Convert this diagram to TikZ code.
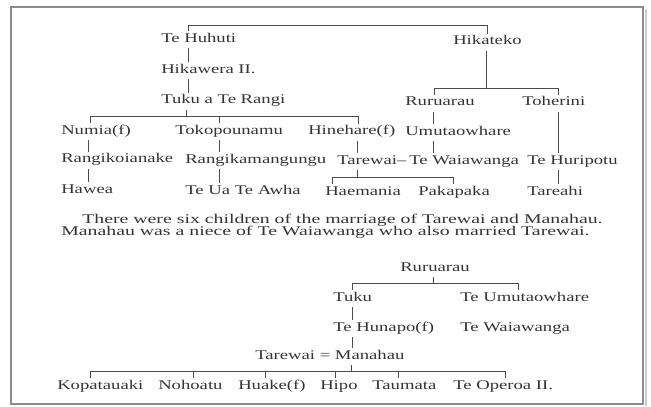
\documentclass[tikz,border=0pt]{standalone}
\usepackage{fontspec}
\setmainfont{Liberation Serif}[FakeStretch=1.4]
\newfontfamily\notefont{Liberation Serif}[FakeStretch=1.485]
\usetikzlibrary{calc}

\begin{document}
\begin{tikzpicture}[
    x=0.75pt, y=-0.75pt,
    person/.style={anchor=base west, inner sep=0pt, text height=8pt, text depth=4.5pt,
        text=black!80, font=\fontsize{10}{12}\selectfont},
    note/.style={anchor=base west, inner sep=0pt, text=black!80, font=\notefont\fontsize{10}{12}\selectfont},
    link/.style={draw=black!70, line width=0.6pt}
]
\useasboundingbox (0,0) rectangle (651,407);

% Frame of the scanned page
\draw[black!45, line width=0.8pt] (11,7) rectangle (643,404);
\draw[black!20, line width=2pt] (646,9) -- (646,406);

% Upper tree: people
\node[person] (huhuti) at (161,42) {Te Huhuti};
\node[person] (hikateko) at (453,45) {Hikateko};
\node[person] (hikawera) at (161,73) {Hikawera II.};
\node[person] (tukurangi) at (161,103.5) {Tuku a Te Rangi};
\node[person] (ruruarau) at (405,105.5) {Ruruarau};
\node[person] (toherini) at (522,105.5) {Toherini};
\node[person] (numia) at (61,134) {Numia(f)};
\node[person] (toko) at (175,134) {Tokopounamu};
\node[person] (hinehare) at (308,134.5) {Hinehare(f)};
\node[person] (umuta) at (405,135) {Umutaowhare};
\node[person] (rangikoi) at (61,162.5) {Rangikoianake};
\node[person] (rangikam) at (185,163) {Rangikamangungu};
\node[person] (tarewai) at (337,164) {Tarewai--};
\node[person] (waiawanga) at (409,164) {Te Waiawanga};
\node[person] (huripotu) at (527,164) {Te Huripotu};
\node[person] (hawea) at (61,193) {Hawea};
\node[person] (teua) at (185,194) {Te Ua Te Awha};
\node[person] (haemania) at (325,195) {Haemania};
\node[person] (pakapaka) at (418,195) {Pakapaka};
\node[person] (tareahi) at (527,195) {Tareahi};

% Upper tree: junctions
\coordinate (top-l) at (188,25);
\coordinate (top-r) at (487,25);
\coordinate (huhuti-line) at (188,0);
\coordinate (tuku-bar) at (186,116);
\coordinate (numia-top) at (90,116);
\coordinate (toko-top) at (219,116);
\coordinate (hinehare-top) at (358,116);
\coordinate (hikateko-bar) at (486,88);
\coordinate (ruruarau-top) at (434,88);
\coordinate (toherini-top) at (558,88);
\coordinate (numia-line) at (88,0);
\coordinate (toko-line) at (219,0);
\coordinate (hinehare-line) at (357,0);
\coordinate (umuta-line) at (433,0);
\coordinate (toherini-line) at (558,0);
\coordinate (tarewai-bar) at (357,177);
\coordinate (haemania-top) at (332,177);
\coordinate (pakapaka-top) at (453,177);

% Upper tree: connections
\draw[link] (huhuti.north -| top-l) -- (top-l) -- (top-r) -- (hikateko.north -| top-r);
\draw[link] (huhuti.south -| huhuti-line) -- (hikawera.north -| huhuti-line);
\draw[link] (hikawera.south -| huhuti-line) -- (tukurangi.north -| huhuti-line);
\draw[link] (tukurangi.south -| tuku-bar) -- (tuku-bar);
\draw[link] (numia-top) -- (hinehare-top);
\foreach \n in {numia,toko,hinehare} {
    \draw[link] (\n-top) -- (\n.north -| \n-top);
}
\draw[link] (hikateko.south -| hikateko-bar) -- (hikateko-bar);
\draw[link] (ruruarau-top) -- (toherini-top);
\foreach \n in {ruruarau,toherini} {
    \draw[link] (\n-top) -- (\n.north -| \n-top);
}
\draw[link] (ruruarau.south -| umuta-line) -- (umuta.north -| umuta-line);
\draw[link] (umuta.south -| umuta-line) -- (waiawanga.north -| umuta-line);
\draw[link] (toherini.south -| toherini-line) -- (huripotu.north -| toherini-line);
\draw[link] (huripotu.south -| toherini-line) -- (tareahi.north -| toherini-line);
\draw[link] (numia.south -| numia-line) -- (rangikoi.north -| numia-line);
\draw[link] (rangikoi.south -| numia-line) -- (hawea.north -| numia-line);
\draw[link] (toko.south -| toko-line) -- (rangikam.north -| toko-line);
\draw[link] (rangikam.south -| toko-line) -- (teua.north -| toko-line);
\draw[link] (hinehare.south -| hinehare-line) -- (tarewai.north -| hinehare-line);
\draw[link] (tarewai.south -| tarewai-bar) -- (tarewai-bar);
\draw[link] (haemania-top) -- (pakapaka-top);
\foreach \n in {haemania,pakapaka} {
    \draw[link] (\n-top) -- (\n.north -| \n-top);
}

% Note between the trees
\node[note] (note1) at (82,223.5) {There were six children of the marriage of Tarewai and Manahau.};
\node[note] (note2) at (61,235.5) {Manahau was a niece of Te Waiawanga who also married Tarewai.};

% Lower tree: people
\node[person] (ruruarau2) at (400,271) {Ruruarau};
\node[person] (tuku2) at (333,301) {Tuku};
\node[person] (umuta2) at (460,301) {Te Umutaowhare};
\node[person] (hunapo) at (333,331) {Te Hunapo(f)};
\node[person] (waiawanga2) at (460,331) {Te Waiawanga};
\node[person] (marriage) at (255,359) {Tarewai = Manahau};

% Lower tree: connections
\coordinate (ruruarau2-bar) at (433,283);
\coordinate (tuku2-top) at (352,283);
\coordinate (umuta2-top) at (518,283);
\coordinate (tuku2-line) at (352,0);
\coordinate (marriage-bar) at (351,371);

\draw[link] (ruruarau2.south -| ruruarau2-bar) -- (ruruarau2-bar);
\draw[link] (tuku2-top) -- (umuta2-top);
\foreach \n in {tuku2,umuta2} {
    \draw[link] (\n-top) -- (\n.north -| \n-top);
}
\draw[link] (tuku2.south -| tuku2-line) -- (hunapo.north -| tuku2-line);
\draw[link] (hunapo.south -| tuku2-line) -- (marriage.north -| tuku2-line);
\draw[link] (marriage.south -| marriage-bar) -- (marriage-bar);

% Children of Tarewai and Manahau
\foreach \n/\x/\t/\txt in {kopatauaki/57/90/Kopatauaki, nohoatu/158/193/Nohoatu,
        huake/238/265/Huake(f), hipo/320/335/Hipo, taumata/372/398/Taumata,
        operoa/453/505/Te Operoa II.} {
    \node[person] (\n) at (\x,389) {\txt};
    \coordinate (\n-top) at (\t,371);
    \draw[link] (\n-top) -- (\n.north -| \n-top);
}
\draw[link] (kopatauaki-top) -- (operoa-top);

\end{tikzpicture}
\end{document}
